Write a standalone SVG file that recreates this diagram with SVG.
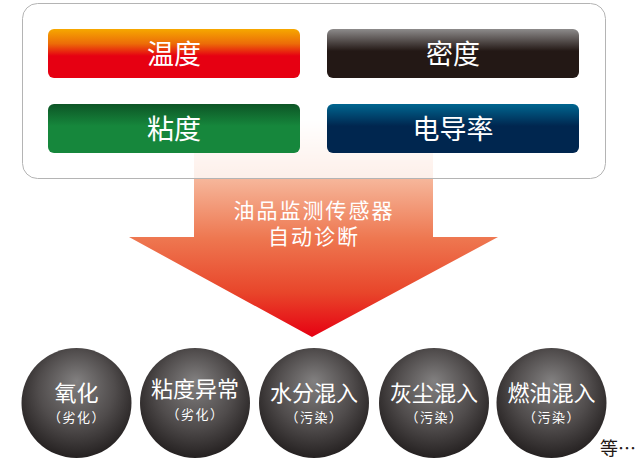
<svg xmlns="http://www.w3.org/2000/svg" width="640" height="471" viewBox="0 0 640 471">
<defs>
<linearGradient id="gOrange" x1="0" y1="0" x2="0" y2="1">
<stop offset="0" stop-color="#f6a800"/>
<stop offset="0.3" stop-color="#ec6c08"/>
<stop offset="0.55" stop-color="#e60012"/>
<stop offset="1" stop-color="#e60012"/>
</linearGradient>
<linearGradient id="gBlack" x1="0" y1="0" x2="0" y2="1">
<stop offset="0" stop-color="#8d8b8b"/>
<stop offset="0.45" stop-color="#231815"/>
<stop offset="1" stop-color="#231815"/>
</linearGradient>
<linearGradient id="gGreen" x1="0" y1="0" x2="0" y2="1">
<stop offset="0" stop-color="#0d5526"/>
<stop offset="0.45" stop-color="#16873c"/>
<stop offset="1" stop-color="#16873c"/>
</linearGradient>
<linearGradient id="gBlue" x1="0" y1="0" x2="0" y2="1">
<stop offset="0" stop-color="#006690"/>
<stop offset="0.45" stop-color="#00264f"/>
<stop offset="1" stop-color="#00264f"/>
</linearGradient>
<linearGradient id="gArrow" gradientUnits="userSpaceOnUse" x1="0" y1="118" x2="0" y2="337">
<stop offset="0" stop-color="#ffffff"/>
<stop offset="0.28" stop-color="#f6b69a"/>
<stop offset="0.55" stop-color="#ee7750"/>
<stop offset="0.8" stop-color="#e8452a"/>
<stop offset="1" stop-color="#e60012"/>
</linearGradient>
<radialGradient id="gBall" cx="0.5" cy="0.42" r="0.58" fx="0.5" fy="0.3">
<stop offset="0" stop-color="#828080"/>
<stop offset="0.6" stop-color="#504c4c"/>
<stop offset="1" stop-color="#252121"/>
</radialGradient>
</defs>
<style>
.btn text, .lbl { font-family: "Noto Sans CJK SC", "Noto Sans", sans-serif; fill: #ffffff; text-anchor: middle; }
.bt { font-size: 27px; }
.at { font-size: 21px; letter-spacing: 2px; }
.ct { font-size: 22px; }
.cs { font-size: 13px; letter-spacing: 1.5px; }
.etc { font-family: "Noto Sans CJK SC", "Noto Sans", sans-serif; font-size: 18px; fill: #231815; }
</style>
<g id="connectors">
<path id="arrow" d="M194 118 H433 V237 H498 L312 337 L129 237 H194 Z" fill="url(#gArrow)"/>
</g>
<g id="panel">
<rect x="22.5" y="3.5" width="583" height="175" rx="15" ry="15" fill="#ffffff" fill-opacity="0.78" stroke="#b4b4b4" stroke-width="1"/>
</g>
<g id="node-temp" class="btn">
<rect x="48" y="29" width="252" height="49" rx="6" fill="url(#gOrange)"/>
<text class="bt" x="174" y="64">温度</text>
</g>
<g id="node-density" class="btn">
<rect x="327" y="29" width="252" height="49" rx="6" fill="url(#gBlack)"/>
<text class="bt" x="453" y="64">密度</text>
</g>
<g id="node-viscosity" class="btn">
<rect x="48" y="104" width="252" height="49" rx="6" fill="url(#gGreen)"/>
<text class="bt" x="174" y="139">粘度</text>
</g>
<g id="node-conductivity" class="btn">
<rect x="327" y="104" width="252" height="49" rx="6" fill="url(#gBlue)"/>
<text class="bt" x="453" y="139">电导率</text>
</g>
<g id="node-sensor">
<text class="lbl at" x="314" y="218">油品监测传感器</text>
<text class="lbl at" x="314" y="244">自动诊断</text>
</g>
<g id="node-oxidation">
<ellipse cx="76.5" cy="403" rx="55" ry="55" fill="url(#gBall)"/>
<text class="lbl ct" x="76.5" y="401">氧化</text>
<text class="lbl cs" x="77" y="422">（劣化）</text>
</g>
<g id="node-visc-abn">
<ellipse cx="195" cy="403" rx="55" ry="55" fill="url(#gBall)"/>
<text class="lbl ct" x="195" y="397">粘度异常</text>
<text class="lbl cs" x="195.5" y="419">（劣化）</text>
</g>
<g id="node-water">
<ellipse cx="314" cy="403" rx="55" ry="55" fill="url(#gBall)"/>
<text class="lbl ct" x="314" y="401">水分混入</text>
<text class="lbl cs" x="314.5" y="422">（污染）</text>
</g>
<g id="node-dust">
<ellipse cx="434" cy="403" rx="55" ry="55" fill="url(#gBall)"/>
<text class="lbl ct" x="434" y="401">灰尘混入</text>
<text class="lbl cs" x="434.5" y="422">（污染）</text>
</g>
<g id="node-fuel">
<ellipse cx="551.5" cy="403" rx="55" ry="55" fill="url(#gBall)"/>
<text class="lbl ct" x="551.5" y="401">燃油混入</text>
<text class="lbl cs" x="552" y="422">（污染）</text>
</g>
<g id="node-etc">
<text class="etc" x="600" y="455">等…</text>
</g>
</svg>
